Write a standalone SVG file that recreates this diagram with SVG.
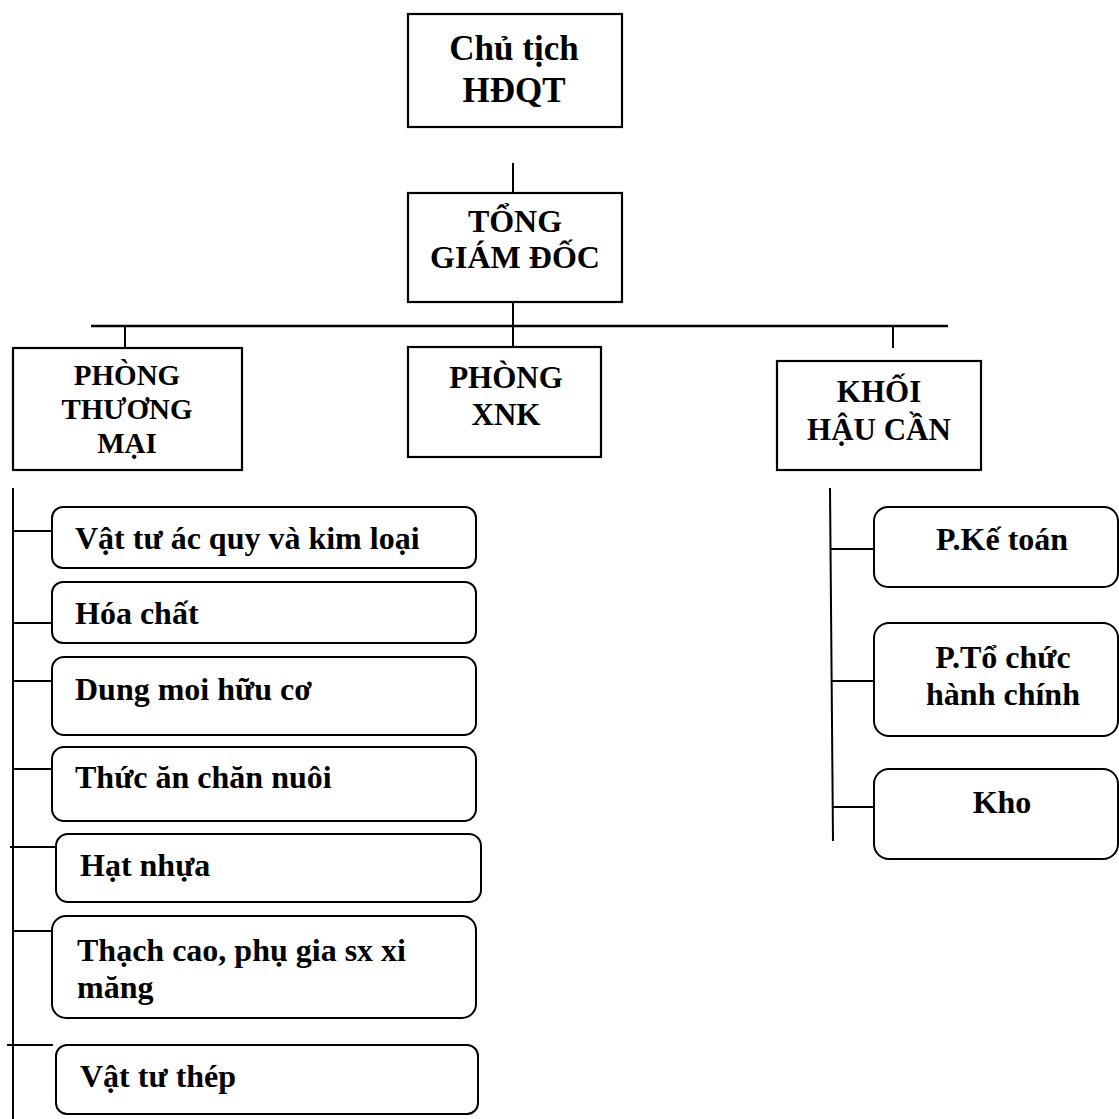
<svg xmlns="http://www.w3.org/2000/svg" width="1119" height="1119" viewBox="0 0 1119 1119">
<style>
.box{fill:#fff;stroke:#000;stroke-width:2.2}
.rbox{fill:#fff;stroke:#000;stroke-width:2}
.ln{stroke:#000;stroke-width:2;fill:none}
.t{font-family:"Liberation Serif","Times New Roman",serif;font-weight:bold;fill:#000}
.c{text-anchor:middle}
</style>
<rect width="1119" height="1119" fill="#fff"/>
<g id="connectors">
<line class="ln" x1="513" y1="163" x2="513" y2="193"/>
<line class="ln" x1="91" y1="326" x2="948" y2="326" style="stroke-width:2.6"/>
<line class="ln" x1="513" y1="302" x2="513" y2="347"/>
<line class="ln" x1="125" y1="326" x2="125" y2="348"/>
<line class="ln" x1="893" y1="326" x2="893" y2="348"/>
<line class="ln" x1="13" y1="488" x2="13" y2="1119"/>
<line class="ln" x1="13" y1="531" x2="52" y2="531"/>
<line class="ln" x1="13" y1="623" x2="57" y2="623"/>
<line class="ln" x1="13" y1="681" x2="52" y2="681"/>
<line class="ln" x1="13" y1="769" x2="59" y2="769"/>
<line class="ln" x1="10" y1="847" x2="56" y2="847"/>
<line class="ln" x1="13" y1="931" x2="57" y2="931"/>
<line class="ln" x1="7" y1="1045" x2="53" y2="1045"/>
<line class="ln" x1="830" y1="488" x2="833" y2="841"/>
<line class="ln" x1="831" y1="549" x2="874" y2="549"/>
<line class="ln" x1="832" y1="681" x2="874" y2="681"/>
<line class="ln" x1="833" y1="807" x2="874" y2="807"/>
</g>
<g id="chu-tich">
<rect class="box" x="408" y="14" width="214" height="113"/>
<text class="t c" x="514" y="60" font-size="35">Chủ tịch</text>
<text class="t c" x="514" y="102" font-size="35">HĐQT</text>
</g>
<g id="tong-giam-doc">
<rect class="box" x="408" y="193" width="214" height="109"/>
<text class="t c" x="515" y="232" font-size="32">TỔNG</text>
<text class="t c" x="515" y="268" font-size="32">GIÁM ĐỐC</text>
</g>
<g id="phong-thuong-mai">
<rect class="box" x="13" y="348" width="229" height="122"/>
<text class="t c" x="127" y="385" font-size="29">PHÒNG</text>
<text class="t c" x="127" y="419" font-size="29">THƯƠNG</text>
<text class="t c" x="127" y="453" font-size="29">MẠI</text>
</g>
<g id="phong-xnk">
<rect class="box" x="408" y="347" width="193" height="110"/>
<text class="t c" x="506" y="388" font-size="31">PHÒNG</text>
<text class="t c" x="506" y="425" font-size="31">XNK</text>
</g>
<g id="khoi-hau-can">
<rect class="box" x="777" y="361" width="204" height="109"/>
<text class="t c" x="879" y="402" font-size="31">KHỐI</text>
<text class="t c" x="879" y="440" font-size="31">HẬU CẦN</text>
</g>
<g id="vat-tu-ac-quy">
<rect class="rbox" x="52" y="507" width="424" height="61" rx="11"/>
<text class="t" x="75" y="549" font-size="32">Vật tư ác quy và kim loại</text>
</g>
<g id="hoa-chat">
<rect class="rbox" x="52" y="582" width="424" height="61" rx="11"/>
<text class="t" x="75" y="624" font-size="32">Hóa chất</text>
</g>
<g id="dung-moi">
<rect class="rbox" x="52" y="657" width="424" height="78" rx="12"/>
<text class="t" x="75" y="700" font-size="32">Dung moi hữu cơ</text>
</g>
<g id="thuc-an">
<rect class="rbox" x="52" y="747" width="424" height="74" rx="12"/>
<text class="t" x="75" y="788" font-size="32">Thức ăn chăn nuôi</text>
</g>
<g id="hat-nhua">
<rect class="rbox" x="56" y="834" width="425" height="68" rx="12"/>
<text class="t" x="80" y="876" font-size="32">Hạt nhựa</text>
</g>
<g id="thach-cao">
<rect class="rbox" x="52" y="916" width="424" height="102" rx="14"/>
<text class="t" x="77" y="961" font-size="32">Thạch cao, phụ gia sx xi</text>
<text class="t" x="77" y="998" font-size="32">măng</text>
</g>
<g id="vat-tu-thep">
<rect class="rbox" x="56" y="1045" width="422" height="69" rx="11"/>
<text class="t" x="80" y="1087" font-size="32">Vật tư thép</text>
</g>
<g id="ke-toan">
<rect class="rbox" x="874" y="507" width="244" height="80" rx="14"/>
<text class="t c" x="1002" y="550" font-size="32">P.Kế toán</text>
</g>
<g id="to-chuc">
<rect class="rbox" x="874" y="623" width="244" height="113" rx="15"/>
<text class="t c" x="1003" y="668" font-size="32">P.Tổ chức</text>
<text class="t c" x="1003" y="705" font-size="32">hành chính</text>
</g>
<g id="kho">
<rect class="rbox" x="874" y="769" width="244" height="90" rx="15"/>
<text class="t c" x="1002" y="813" font-size="32">Kho</text>
</g>
</svg>
